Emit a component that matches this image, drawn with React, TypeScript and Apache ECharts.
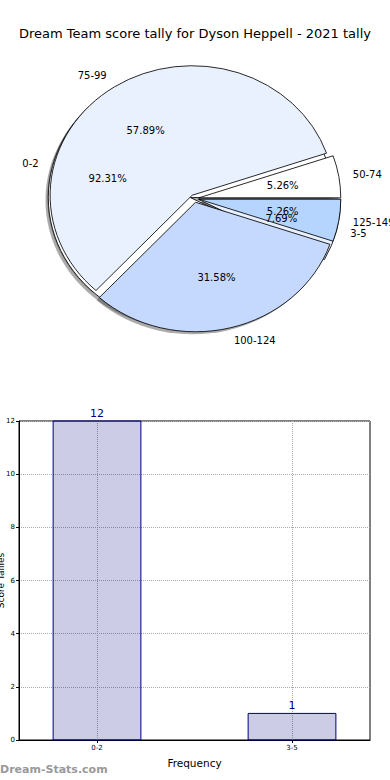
import React, { useEffect, useRef } from "react";
import * as echarts from "echarts";

const TITLE = "Dream Team score tally for Dyson Heppell - 2021 tally";
const scoreRanges = ["50-74", "75-99", "100-124", "125-149"];
const scoreCounts = [1, 11, 6, 1];
const scoreColors = ["#ffffff", "#eaf1fe", "#c5d9fe", "#b5d5ff"];
const freqRanges = ["0-2", "3-5"];
const freqCounts = [12, 1];
const freqColors = ["#ffffff", "#e8f0fe"];
const yTicks = [0, 2, 4, 6, 8, 10, 12];

const FONT = "DejaVu Sans";
const CX = 194.5;
const CY = 198.5;
const RX = 142;
const RY = 129.5;
const EXPLODE = 0.03;
const SHADOW = 0.02;
const BAR_W = 0.45;

function fractions(vals: number[]) {
  const total = vals.reduce((a, b) => a + b, 0);
  const starts = [0];
  vals.forEach((v, i) => starts.push(starts[i] + v / total));
  return { total, starts };
}

function wedgeSeries(vals: number[], colors: string[] | null, z: number) {
  const { starts } = fractions(vals);
  const isShadow = colors === null;
  return {
    type: "custom",
    coordinateSystem: "none",
    z,
    silent: true,
    data: vals,
    renderItem: (params: any) => {
      const i = params.dataIndex;
      const a1 = starts[i] * Math.PI * 2;
      const a2 = starts[i + 1] * Math.PI * 2;
      const mid = (a1 + a2) / 2;
      let dx = EXPLODE * RX * Math.cos(mid);
      let dy = -EXPLODE * RY * Math.sin(mid);
      if (isShadow) {
        dx -= SHADOW * RX;
        dy += SHADOW * RY;
      }
      return {
        type: "sector",
        x: CX + dx,
        y: CY + dy,
        scaleX: RX / RY,
        scaleY: 1,
        shape: { cx: 0, cy: 0, r: RY, r0: 0, startAngle: -a2, endAngle: -a1, clockwise: true },
        style: isShadow
          ? { fill: "rgba(70,70,70,0.45)", stroke: "none" }
          : { fill: colors![i], stroke: "#000", lineWidth: 0.8, strokeNoScale: true },
      };
    },
  };
}

function labelSeries(names: string[], vals: number[], z: number) {
  const { total, starts } = fractions(vals);
  return {
    type: "custom",
    coordinateSystem: "none",
    z,
    silent: true,
    data: vals,
    renderItem: (params: any, api: any) => {
      const i = params.dataIndex;
      const a1 = starts[i] * Math.PI * 2;
      const a2 = starts[i + 1] * Math.PI * 2;
      const mid = (a1 + a2) / 2;
      const c = Math.cos(mid);
      const s = Math.sin(mid);
      const ox = CX + EXPLODE * RX * c;
      const oy = CY - EXPLODE * RY * s;
      const v = api.value(0);
      return {
        type: "group",
        children: [
          {
            type: "text",
            x: ox + 1.1 * RX * c,
            y: oy - 1.1 * RY * s,
            style: {
              text: names[i],
              fill: "#000",
              fontSize: 10,
              fontFamily: FONT,
              align: c < 0 ? "right" : "left",
              verticalAlign: "middle",
            },
          },
          {
            type: "text",
            x: ox + 0.6 * RX * c,
            y: oy - 0.6 * RY * s,
            style: {
              text: ((v / total) * 100).toFixed(2) + "%",
              fill: "#000",
              fontSize: 10,
              fontFamily: FONT,
              align: "center",
              verticalAlign: "middle",
            },
          },
        ],
      };
    },
  };
}

export default function App() {
  const ref = useRef<HTMLDivElement>(null);
  useEffect(() => {
    if (!ref.current) return;
    const chart = echarts.init(ref.current, undefined, { renderer: "svg" });
    chart.setOption({
      animation: false,
      title: {
        text: TITLE,
        left: "center",
        top: 22,
        textStyle: { fontSize: 13, fontWeight: "normal", fontFamily: FONT, color: "#000" },
      },
      grid: {
        left: 19,
        right: 20,
        top: 421,
        bottom: 40,
        containLabel: false,
        outerBoundsMode: "none",
        show: true,
        borderColor: "#000",
        borderWidth: 1,
        backgroundColor: "transparent",
      },
      xAxis: {
        type: "value",
        min: -0.4,
        max: 1.4,
        axisLine: { show: true, onZero: false, lineStyle: { color: "#000" } },
        axisTick: { show: true, customValues: [0, 1], length: 3, lineStyle: { color: "#000" } },
        axisLabel: {
          customValues: [0, 1],
          formatter: (v: number) => freqRanges[Math.round(v)] ?? "",
          fontSize: 7,
          color: "#000",
          fontFamily: FONT,
          margin: 4,
        },
        splitLine: { show: true, lineStyle: { type: "dotted", color: "#aaa" } },
        name: "Frequency",
        nameLocation: "middle",
        nameGap: 17,
        nameMoveOverlap: false,
        nameTextStyle: { fontSize: 10.5, fontFamily: FONT, color: "#000" },
      },
      yAxis: {
        type: "value",
        min: yTicks[0],
        max: yTicks[yTicks.length - 1],
        interval: 2,
        axisLine: { show: true, onZero: false, lineStyle: { color: "#000" } },
        axisTick: { show: true, length: 3, lineStyle: { color: "#000" } },
        axisLabel: { fontSize: 7, color: "#000", fontFamily: FONT, margin: 4 },
        splitLine: { show: true, lineStyle: { type: "dotted", color: "#aaa" } },
        name: "Score Tallies",
        nameLocation: "middle",
        nameGap: 14,
        nameMoveOverlap: false,
        nameTextStyle: { fontSize: 9, fontFamily: FONT, color: "#000" },
      },
      series: [
        wedgeSeries(freqCounts, null, 0),
        wedgeSeries(scoreCounts, null, 0),
        wedgeSeries(freqCounts, freqColors, 1),
        wedgeSeries(scoreCounts, scoreColors, 2),
        labelSeries(freqRanges, freqCounts, 3),
        labelSeries(scoreRanges, scoreCounts, 3),
        {
          type: "custom",
          coordinateSystem: "cartesian2d",
          xAxisIndex: 0,
          yAxisIndex: 0,
          silent: true,
          z: 4,
          data: freqCounts.map((v, i) => [i, v]),
          encode: { x: 0, y: 1 },
          renderItem: (params: any, api: any) => {
            const x = api.value(0);
            const v = api.value(1);
            const p1 = api.coord([x - BAR_W / 2, v]);
            const p2 = api.coord([x + BAR_W / 2, 0]);
            return {
              type: "rect",
              shape: { x: p1[0], y: p1[1], width: p2[0] - p1[0], height: p2[1] - p1[1] },
              style: { fill: "rgba(0,0,128,0.2)", stroke: "#000080", lineWidth: 1 },
              textContent: {
                style: { text: String(v), fill: "#000080", fontSize: 11, fontFamily: FONT },
              },
              textConfig: { position: "top", distance: 2 },
            };
          },
        },
      ],
      graphic: [
        {
          type: "text",
          left: 0,
          top: 764,
          style: { text: "Dream-Stats.com", fill: "#999", font: "bold 11px 'DejaVu Sans'" },
        },
      ],
    });
    return () => chart.dispose();
  }, []);
  return (
    <div
      ref={ref}
      style={{ position: "absolute", left: 0, top: 0, width: 390, height: 780, background: "#fff" }}
    />
  );
}
